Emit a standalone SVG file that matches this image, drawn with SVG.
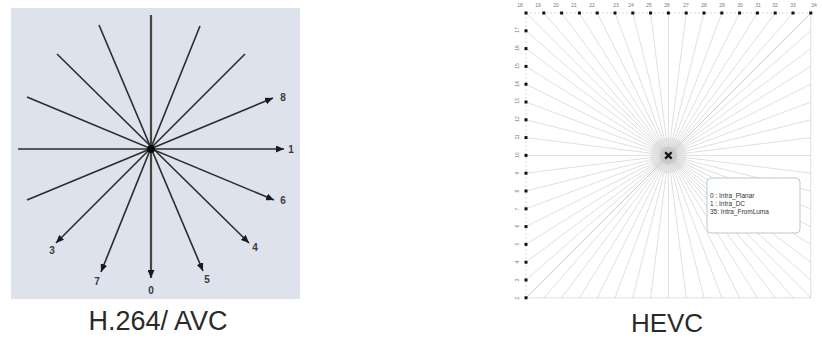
<svg xmlns="http://www.w3.org/2000/svg" width="822" height="338" viewBox="0 0 822 338">
<style>
.ray{stroke:#2b2b2b;stroke-width:1.6;fill:none}
.lbl{font-family:"Liberation Sans",Arial,sans-serif;font-size:10px;font-weight:bold;fill:#3a3a3a;text-anchor:middle;dominant-baseline:central}
.title{font-family:"Liberation Sans",Arial,sans-serif;font-size:27px;fill:#2a2a2a;text-anchor:middle}
.hl{stroke:#b0b0b0;stroke-opacity:0.45;stroke-width:0.9}
.dot{fill:#111}
.tl{font-family:"Liberation Sans",Arial,sans-serif;font-size:5px;fill:#777;text-anchor:middle;dominant-baseline:central}
.lg{font-family:"Liberation Sans",Arial,sans-serif;font-size:6.5px;fill:#333}
</style>
<defs>
<marker id="ah" markerUnits="userSpaceOnUse" markerWidth="9" markerHeight="7" refX="8" refY="3.5" orient="auto">
<path d="M0,0 L8,3.5 L0,7 z" fill="#1a1a1a"/>
</marker>
</defs>
<rect width="822" height="338" fill="#ffffff"/>

<g id="h264-panel">
<rect x="11" y="8" width="289" height="291" fill="#dde2ec"/>
</g>

<g id="h264-connectors">
<line class="ray" x1="151" y1="15" x2="151" y2="278" marker-end="url(#ah)" style="stroke:#4a423c;stroke-width:2.2"/>
<line class="ray" x1="18" y1="149" x2="284" y2="149" marker-end="url(#ah)"/>
<line class="ray" x1="27" y1="200" x2="273" y2="98" marker-end="url(#ah)"/>
<line class="ray" x1="27" y1="97" x2="274" y2="200" marker-end="url(#ah)"/>
<line class="ray" x1="57" y1="54" x2="249" y2="243" marker-end="url(#ah)"/>
<line class="ray" x1="245" y1="54" x2="56" y2="243" marker-end="url(#ah)"/>
<line class="ray" x1="200" y1="26" x2="101" y2="272" marker-end="url(#ah)"/>
<line class="ray" x1="99" y1="25" x2="203" y2="271" marker-end="url(#ah)"/>
</g>

<g id="h264-center">
<circle cx="151" cy="149" r="4" fill="#0a0a0a"/>
</g>

<g id="h264-labels">
<text class="lbl" x="151" y="290">0</text>
<text class="lbl" x="291" y="149">1</text>
<text class="lbl" x="283" y="97">8</text>
<text class="lbl" x="283" y="200">6</text>
<text class="lbl" x="255" y="247">4</text>
<text class="lbl" x="52" y="250">3</text>
<text class="lbl" x="97" y="281">7</text>
<text class="lbl" x="207" y="279">5</text>
</g>

<text class="title" x="158" y="330">H.264/ AVC</text>

<g id="hevc-frame">
<line x1="526" y1="13" x2="810.8" y2="13" stroke="#cfcfcf" stroke-width="0.8" stroke-dasharray="2,2"/>
<line x1="526" y1="13" x2="526" y2="297.8" stroke="#cfcfcf" stroke-width="0.8" stroke-dasharray="2,2"/>
<line x1="810.8" y1="13" x2="810.8" y2="297.8" stroke="#d6d6d6" stroke-width="0.8"/>
<line x1="526" y1="297.8" x2="810.8" y2="297.8" stroke="#d6d6d6" stroke-width="0.8"/>
</g>

<g id="hevc-connectors">
<line class="hl" x1="526" y1="13" x2="810.8" y2="297.8"/>
<line class="hl" x1="543.8" y1="13" x2="793" y2="297.8"/>
<line class="hl" x1="561.6" y1="13" x2="775.2" y2="297.8"/>
<line class="hl" x1="579.4" y1="13" x2="757.4" y2="297.8"/>
<line class="hl" x1="597.2" y1="13" x2="739.6" y2="297.8"/>
<line class="hl" x1="615" y1="13" x2="721.8" y2="297.8"/>
<line class="hl" x1="632.8" y1="13" x2="704" y2="297.8"/>
<line class="hl" x1="650.6" y1="13" x2="686.2" y2="297.8"/>
<line class="hl" x1="668.4" y1="13" x2="668.4" y2="297.8"/>
<line class="hl" x1="686.2" y1="13" x2="650.6" y2="297.8"/>
<line class="hl" x1="704" y1="13" x2="632.8" y2="297.8"/>
<line class="hl" x1="721.8" y1="13" x2="615" y2="297.8"/>
<line class="hl" x1="739.6" y1="13" x2="597.2" y2="297.8"/>
<line class="hl" x1="757.4" y1="13" x2="579.4" y2="297.8"/>
<line class="hl" x1="775.2" y1="13" x2="561.6" y2="297.8"/>
<line class="hl" x1="793" y1="13" x2="543.8" y2="297.8"/>
<line class="hl" x1="810.8" y1="13" x2="526" y2="297.8"/>
<line class="hl" x1="526" y1="30.8" x2="810.8" y2="280"/>
<line class="hl" x1="526" y1="48.6" x2="810.8" y2="262.2"/>
<line class="hl" x1="526" y1="66.4" x2="810.8" y2="244.4"/>
<line class="hl" x1="526" y1="84.2" x2="810.8" y2="226.6"/>
<line class="hl" x1="526" y1="102" x2="810.8" y2="208.8"/>
<line class="hl" x1="526" y1="119.8" x2="810.8" y2="191"/>
<line class="hl" x1="526" y1="137.6" x2="810.8" y2="173.2"/>
<line class="hl" x1="526" y1="155.4" x2="810.8" y2="155.4"/>
<line class="hl" x1="526" y1="173.2" x2="810.8" y2="137.6"/>
<line class="hl" x1="526" y1="191" x2="810.8" y2="119.8"/>
<line class="hl" x1="526" y1="208.8" x2="810.8" y2="102"/>
<line class="hl" x1="526" y1="226.6" x2="810.8" y2="84.2"/>
<line class="hl" x1="526" y1="244.4" x2="810.8" y2="66.4"/>
<line class="hl" x1="526" y1="262.2" x2="810.8" y2="48.6"/>
<line class="hl" x1="526" y1="280" x2="810.8" y2="30.8"/>
<line class="hl" x1="526" y1="297.8" x2="810.8" y2="13"/>
</g>

<g id="hevc-center">
<circle cx="668.4" cy="155.4" r="18" fill="#d0d0d0" opacity="0.35"/>
<circle cx="668.4" cy="155.4" r="9" fill="#bdbdbd" opacity="0.45"/>
<path d="M665.2,152.2 L671.6,158.6 M671.6,152.2 L665.2,158.6" stroke="#111" stroke-width="2.2"/>
</g>

<g id="hevc-dots">
<rect class="dot" x="524.5" y="11.5" width="3" height="3"/>
<rect class="dot" x="542.3" y="11.5" width="3" height="3"/>
<rect class="dot" x="560.1" y="11.5" width="3" height="3"/>
<rect class="dot" x="577.9" y="11.5" width="3" height="3"/>
<rect class="dot" x="595.7" y="11.5" width="3" height="3"/>
<rect class="dot" x="613.5" y="11.5" width="3" height="3"/>
<rect class="dot" x="631.3" y="11.5" width="3" height="3"/>
<rect class="dot" x="649.1" y="11.5" width="3" height="3"/>
<rect class="dot" x="666.9" y="11.5" width="3" height="3"/>
<rect class="dot" x="684.7" y="11.5" width="3" height="3"/>
<rect class="dot" x="702.5" y="11.5" width="3" height="3"/>
<rect class="dot" x="720.3" y="11.5" width="3" height="3"/>
<rect class="dot" x="738.1" y="11.5" width="3" height="3"/>
<rect class="dot" x="755.9" y="11.5" width="3" height="3"/>
<rect class="dot" x="773.7" y="11.5" width="3" height="3"/>
<rect class="dot" x="791.5" y="11.5" width="3" height="3"/>
<rect class="dot" x="809.3" y="11.5" width="3" height="3"/>
<rect class="dot" x="524.5" y="29.3" width="3" height="3"/>
<rect class="dot" x="524.5" y="47.1" width="3" height="3"/>
<rect class="dot" x="524.5" y="64.9" width="3" height="3"/>
<rect class="dot" x="524.5" y="82.7" width="3" height="3"/>
<rect class="dot" x="524.5" y="100.5" width="3" height="3"/>
<rect class="dot" x="524.5" y="118.3" width="3" height="3"/>
<rect class="dot" x="524.5" y="136.1" width="3" height="3"/>
<rect class="dot" x="524.5" y="153.9" width="3" height="3"/>
<rect class="dot" x="524.5" y="171.7" width="3" height="3"/>
<rect class="dot" x="524.5" y="189.5" width="3" height="3"/>
<rect class="dot" x="524.5" y="207.3" width="3" height="3"/>
<rect class="dot" x="524.5" y="225.1" width="3" height="3"/>
<rect class="dot" x="524.5" y="242.9" width="3" height="3"/>
<rect class="dot" x="524.5" y="260.7" width="3" height="3"/>
<rect class="dot" x="524.5" y="278.5" width="3" height="3"/>
<rect class="dot" x="524.5" y="296.3" width="3" height="3"/>
</g>

<g id="hevc-labels">
<text class="tl" x="520" y="5">18</text>
<text class="tl" x="538" y="5">19</text>
<text class="tl" x="556" y="5">20</text>
<text class="tl" x="574" y="5">21</text>
<text class="tl" x="592" y="5">22</text>
<text class="tl" x="616" y="5">23</text>
<text class="tl" x="631" y="5">24</text>
<text class="tl" x="649" y="5">25</text>
<text class="tl" x="667" y="5">26</text>
<text class="tl" x="686" y="5">27</text>
<text class="tl" x="704" y="5">28</text>
<text class="tl" x="722" y="5">29</text>
<text class="tl" x="740" y="5">30</text>
<text class="tl" x="758" y="5">31</text>
<text class="tl" x="775" y="5">32</text>
<text class="tl" x="793" y="5">33</text>
<text class="tl" x="814" y="5">34</text>
<text class="tl" transform="translate(517,30) rotate(-90)">17</text>
<text class="tl" transform="translate(517,48) rotate(-90)">16</text>
<text class="tl" transform="translate(517,66) rotate(-90)">15</text>
<text class="tl" transform="translate(517,84) rotate(-90)">14</text>
<text class="tl" transform="translate(517,101) rotate(-90)">13</text>
<text class="tl" transform="translate(517,119) rotate(-90)">12</text>
<text class="tl" transform="translate(517,137) rotate(-90)">11</text>
<text class="tl" transform="translate(517,155) rotate(-90)">10</text>
<text class="tl" transform="translate(517,173) rotate(-90)">9</text>
<text class="tl" transform="translate(517,191) rotate(-90)">8</text>
<text class="tl" transform="translate(517,209) rotate(-90)">7</text>
<text class="tl" transform="translate(517,226) rotate(-90)">6</text>
<text class="tl" transform="translate(517,244) rotate(-90)">5</text>
<text class="tl" transform="translate(517,262) rotate(-90)">4</text>
<text class="tl" transform="translate(517,280) rotate(-90)">3</text>
<text class="tl" transform="translate(517,298) rotate(-90)">2</text>
</g>

<g id="hevc-legend">
<rect x="707" y="178" width="93" height="55" rx="4" fill="#ffffff" fill-opacity="0.9" stroke="#b7c9d2" stroke-width="1"/>
<text class="lg" x="710" y="198">0  : Intra_Planar</text>
<text class="lg" x="710" y="206">1  : Intra_DC</text>
<text class="lg" x="710" y="214">35: Intra_FromLuma</text>
</g>

<text class="title" x="667" y="332" style="font-size:26px">HEVC</text>
</svg>
